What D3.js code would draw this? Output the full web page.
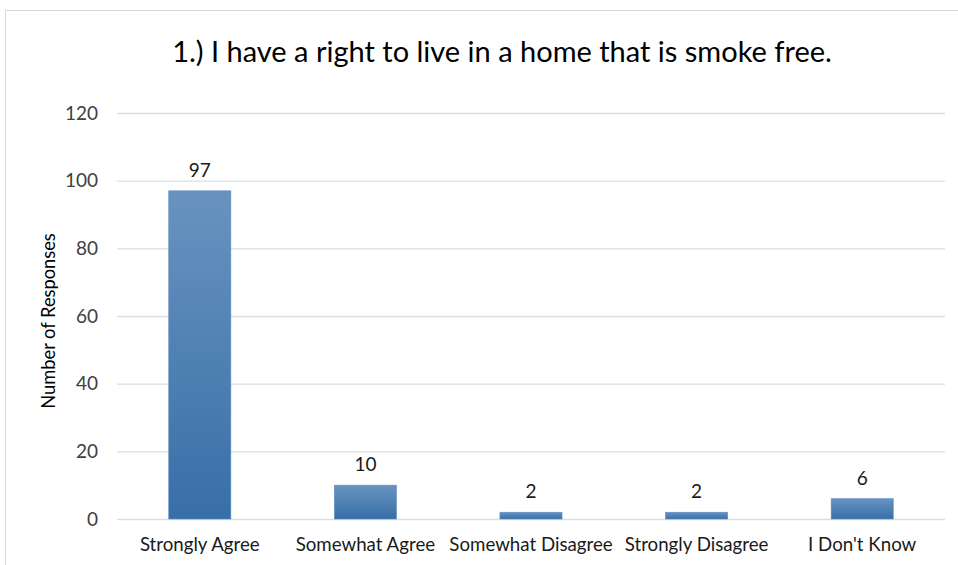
<!DOCTYPE html>
<html><head><meta charset="utf-8">
<script src="https://cdn.jsdelivr.net/npm/d3@7"></script>
<style>
body{margin:0;background:#fff;}
text{font-family:Lato,"Open Sans",sans-serif;}
</style></head>
<body><svg id="c" width="958" height="565"></svg>
<script>
const categories=["Strongly Agree","Somewhat Agree","Somewhat Disagree","Strongly Disagree","I Don't Know"];
const values=[97,10,2,2,6];
const yTicks=[0,20,40,60,80,100,120];
const title="1.) I have a right to live in a home that is smoke free.";
const yTitle="Number of Responses";

const svg=d3.select("#c");
svg.append("rect").attr("x",5.5).attr("y",10.5).attr("width",960).attr("height",570)
  .attr("fill","#fff").attr("stroke","#d9d9d9");
const m={l:117,r:945,t:113,b:519};
const x=d3.scaleBand().domain(categories).range([m.l,m.r]).paddingInner(0.625).paddingOuter(0.3125);
const y=d3.scaleLinear().domain([0,120]).range([m.b,m.t]);

const defs=svg.append("defs");
const g=defs.append("linearGradient").attr("id","bg").attr("x1",0).attr("y1",0).attr("x2",0).attr("y2",1);
g.append("stop").attr("offset","0%").attr("stop-color","#6893bf");
g.append("stop").attr("offset","100%").attr("stop-color","#386fa8");

const ya=svg.append("g").attr("transform",`translate(${m.l},0)`)
  .call(d3.axisLeft(y).tickValues(yTicks).tickSize(-(m.r-m.l)).tickPadding(19));
ya.select(".domain").remove();
ya.selectAll(".tick line").attr("stroke","#d9dde5").attr("stroke-width",1.3);
ya.selectAll(".tick text").attr("fill","#404040").style("font-size","19px");

const xa=svg.append("g").attr("transform",`translate(0,${m.b})`)
  .call(d3.axisBottom(x).tickSize(0).tickPadding(19));
xa.select(".domain").remove();
xa.selectAll(".tick text").attr("fill","#1a1a1a").style("font-size","18.7px");

svg.selectAll(".bar").data(values).join("rect").attr("class","bar")
  .attr("x",(d,i)=>x(categories[i])).attr("width",x.bandwidth())
  .attr("y",d=>y(d)).attr("height",d=>y(0)-y(d))
  .attr("fill","url(#bg)").attr("stroke","#5b8cc0").attr("stroke-width",0.6);

svg.selectAll(".lbl").data(values).join("text").attr("class","lbl")
  .attr("x",(d,i)=>x(categories[i])+x.bandwidth()/2).attr("y",d=>y(d)-14)
  .attr("text-anchor","middle").attr("fill","#1a1a1a").style("font-size","19px").text(d=>d);

svg.append("text").attr("x",502).attr("y",62).attr("text-anchor","middle")
  .attr("fill","#000").style("font-size","29px").text(title);
svg.append("text").attr("transform","translate(55,321) rotate(-90)").attr("text-anchor","middle")
  .attr("fill","#000").style("font-size","18.3px").text(yTitle);
</script></body></html>
